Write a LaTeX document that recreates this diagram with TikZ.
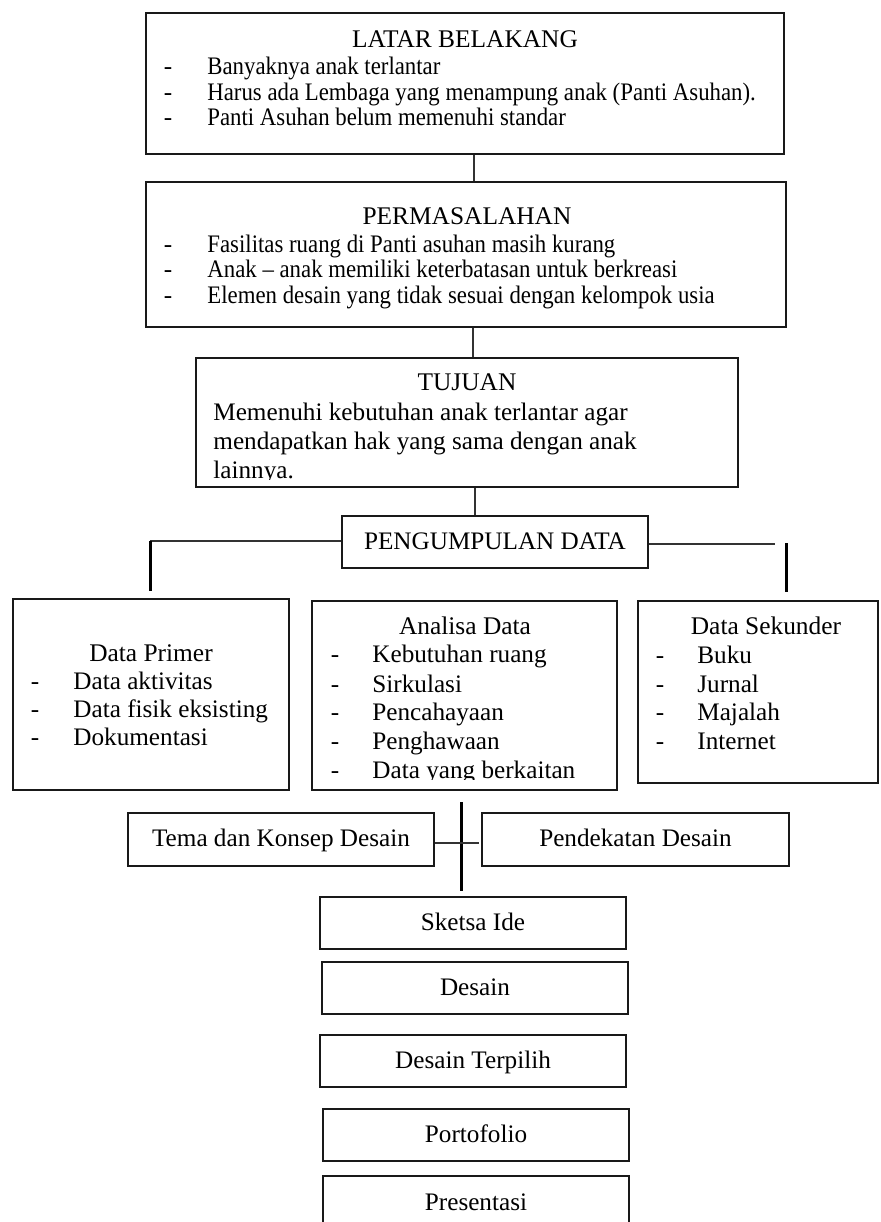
\documentclass[tikz,border=0pt]{standalone}
\usepackage{fontspec}
\setmainfont{Liberation Serif}
\newfontfamily\narrowserif[FakeStretch=0.905,Ligatures=TeX]{Liberation Serif}
\newcommand\fnt{\fontsize{12.6}{14}\selectfont}
\newcommand\fntsm{\narrowserif\fontsize{12.6}{14}\selectfont}
\newcommand\fntttl{\fontsize{12.7}{14}\selectfont}
\newcommand\boxnode[6]{%
  \node[box, minimum width={(#4-#2)*0.5pt}, minimum height={(#5-#3)*0.5pt}] (#1) at ({(#2+#4)/2},{(#3+#5)/2}) {#6};}
\tikzset{
  box/.style={draw=black!90, line width=1pt, inner sep=0pt, font=\fnt, text height=9pt, text depth=2pt},
  itemtext/.style={inner sep=0pt, anchor=base west, font=\fnt},
  itemsmall/.style={inner sep=0pt, anchor=base west, font=\fntsm},
  ttl/.style={inner sep=0pt, anchor=base, font=\fntttl},
  dashmark/.style={inner sep=0pt, anchor=base, font=\fnt},
  link/.style={draw=black!80, line width=0.6pt},
  bar/.style={draw=black, line width=1.5pt},
}
\begin{document}
\begin{tikzpicture}[x=0.5pt, y=-0.5pt]
\path[use as bounding box, fill=white] (0,0) rectangle (881,1222);

% ---------- LATAR BELAKANG ----------
\boxnode{latar}{146}{13}{784}{154}{}
\node[ttl] (latarT) at (465,47) {LATAR BELAKANG};
\node[dashmark] (ld1) at (168,74) {-};
\node[dashmark] (ld2) at (168,100) {-};
\node[dashmark] (ld3) at (168,125) {-};
\node[itemsmall] (l1) at (207,74) {Banyaknya anak terlantar};
\node[itemsmall] (l2) at (207,100) {Harus ada Lembaga yang menampung anak (Panti Asuhan).};
\node[itemsmall] (l3) at (207,125) {Panti Asuhan belum memenuhi standar};

% ---------- PERMASALAHAN ----------
\boxnode{perm}{146}{182}{786}{327}{}
\node[ttl] (permT) at (467,224) {PERMASALAHAN};
\node[dashmark] (pd1) at (168,252) {-};
\node[dashmark] (pd2) at (168,277) {-};
\node[dashmark] (pd3) at (168,303) {-};
\node[itemsmall] (p1) at (207,252) {Fasilitas ruang di Panti asuhan masih kurang};
\node[itemsmall] (p2) at (207,277) {Anak – anak memiliki keterbatasan untuk berkreasi};
\node[itemsmall] (p3) at (207,303) {Elemen desain yang tidak sesuai dengan kelompok usia};

% ---------- TUJUAN ----------
\boxnode{tuj}{196}{358}{738}{487}{}
\node[ttl] (tujT) at (467,390) {TUJUAN};
\node[itemtext] (t1) at (213,420) {Memenuhi kebutuhan anak terlantar agar};
\node[itemtext] (t2) at (213,449) {mendapatkan hak yang sama dengan anak};
\begin{scope}
  \clip (200,455) rectangle (734,479);
  \node[itemtext] (t3) at (213,478) {lainnya.};
\end{scope}

% ---------- PENGUMPULAN DATA ----------
\boxnode{peng}{342}{516}{648}{568}{PENGUMPULAN DATA}

% ---------- Data Primer ----------
\boxnode{prim}{13}{599}{289}{790}{}
\node[ttl] (primT) at (151,661) {Data Primer};
\node[dashmark] (rd1) at (35,689) {-};
\node[dashmark] (rd2) at (35,717) {-};
\node[dashmark] (rd3) at (35,745) {-};
\node[itemtext] (r1) at (73,689) {Data aktivitas};
\node[itemtext] (r2) at (73,717) {Data fisik eksisting};
\node[itemtext] (r3) at (73,745) {Dokumentasi};

% ---------- Analisa Data ----------
\boxnode{anal}{312}{601}{617}{790}{}
\node[ttl] (analT) at (465,634) {Analisa Data};
\node[dashmark] (ad1) at (335,662) {-};
\node[dashmark] (ad2) at (335,692) {-};
\node[dashmark] (ad3) at (335,720) {-};
\node[dashmark] (ad4) at (335,749) {-};
\node[dashmark] (ad5) at (335,778) {-};
\node[itemtext] (a1) at (372,662) {Kebutuhan ruang};
\node[itemtext] (a2) at (372,692) {Sirkulasi};
\node[itemtext] (a3) at (372,720) {Pencahayaan};
\node[itemtext] (a4) at (372,749) {Penghawaan};
\begin{scope}
  \clip (316,755) rectangle (613,779);
  \node[itemtext] (a5) at (372,778) {Data yang berkaitan};
\end{scope}

% ---------- Data Sekunder ----------
\boxnode{sek}{638}{601}{878}{783}{}
\node[ttl] (sekT) at (766,634) {Data Sekunder};
\node[dashmark] (sd1) at (660,663) {-};
\node[dashmark] (sd2) at (660,692) {-};
\node[dashmark] (sd3) at (660,720) {-};
\node[dashmark] (sd4) at (660,749) {-};
\node[itemtext] (s1) at (697,663) {Buku};
\node[itemtext] (s2) at (697,692) {Jurnal};
\node[itemtext] (s3) at (697,720) {Majalah};
\node[itemtext] (s4) at (697,749) {Internet};

% ---------- Tema / Pendekatan ----------
\boxnode{tema}{128}{813}{434}{866}{Tema dan Konsep Desain}
\boxnode{pend}{482}{813}{789}{866}{Pendekatan Desain}

% ---------- lower column ----------
\boxnode{sketsa}{320}{897}{626}{949}{Sketsa Ide}
\boxnode{desain}{322}{962}{628}{1014}{Desain}
\boxnode{terpilih}{320}{1035}{626}{1087}{Desain Terpilih}
\boxnode{porto}{323}{1109}{629}{1161}{Portofolio}
\boxnode{pres}{323}{1176}{629}{1230}{Presentasi}

% ---------- connectors ----------
\coordinate (c1) at (474,0);
\coordinate (c2) at (473,0);
\coordinate (c3) at (475,0);
\draw[link] (latar.south -| c1) -- (perm.north -| c1);
\draw[link] (perm.south -| c2) -- (tuj.north -| c2);
\draw[link] (tuj.south -| c3) -- (peng.north -| c3);

\coordinate (blt) at (150,541);
\coordinate (blb) at (150,591);
\coordinate (rle) at (775,544);
\coordinate (brt) at (786,543);
\coordinate (brb) at (786,592);
\draw[link] (peng.west |- blt) -- (blt);
\draw[bar] (blt) -- (blb);
\draw[link] (peng.east |- rle) -- (rle);
\draw[bar] (brt) -- (brb);

\coordinate (vt) at (461,802);
\coordinate (vb) at (461,891);
\coordinate (cb) at (0,843);
\coordinate (cbe) at (479,843);
\draw[bar] (vt) -- (vb);
\draw[link] (tema.east |- cb) -- (cbe);
\end{tikzpicture}
\end{document}
